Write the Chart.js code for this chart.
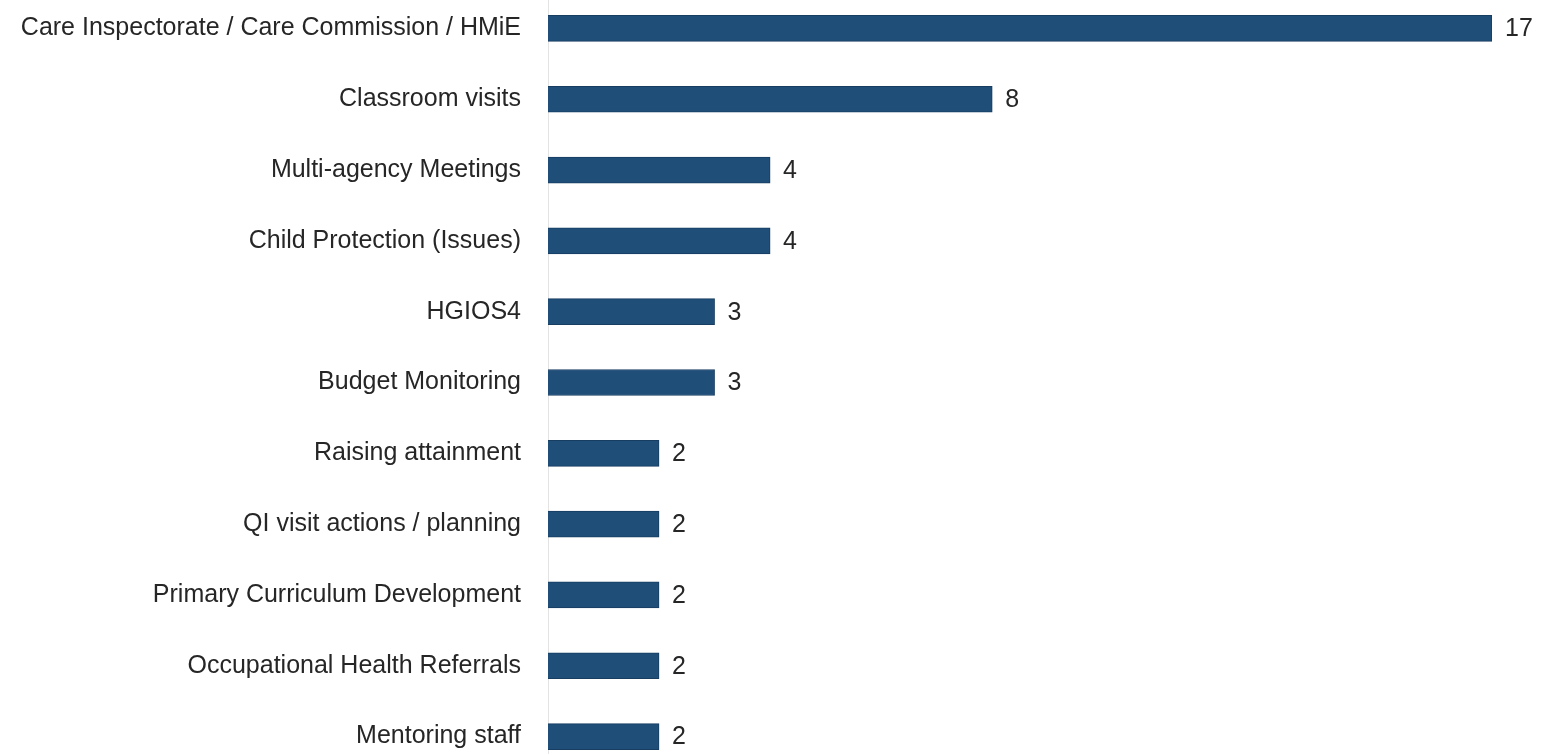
<!DOCTYPE html>
<html>
<head>
<meta charset="utf-8">
<script src="https://cdn.jsdelivr.net/npm/chart.js@4/dist/chart.umd.min.js"></script>
<style>
  html, body { margin: 0; padding: 0; background: #fff; overflow: hidden; }
  #box { position: absolute; left: 0; top: -49px; width: 1545px; height: 863px; }
</style>
</head>
<body>
<div id="box"><canvas id="c"></canvas></div>
<script>
// categories and counts, top to bottom as in the chart
const categories = [
  'Care Inspectorate / Care Commission / HMiE',
  'Classroom visits',
  'Multi-agency Meetings',
  'Child Protection (Issues)',
  'HGIOS4',
  'Budget Monitoring',
  'Raising attainment',
  'QI visit actions / planning',
  'Primary Curriculum Development',
  'Occupational Health Referrals',
  'Mentoring staff',
]
const counts = [17, 8, 4, 4, 3, 3, 2, 2, 2, 2, 2]

const FONT = { family: "'Liberation Sans', Arial, sans-serif", size: 25 }
const TEXT = '#262626'

// value labels just past the end of each bar
const valueLabels = {
  id: 'valueLabels',
  afterDatasetsDraw(chart) {
    const ctx = chart.ctx
    const meta = chart.getDatasetMeta(0)
    ctx.save()
    ctx.font = `${FONT.size}px ${FONT.family}`
    ctx.fillStyle = TEXT
    ctx.textBaseline = 'middle'
    ctx.textAlign = 'left'
    meta.data.forEach((bar, i) => {
      ctx.fillText(String(counts[i]), bar.x + 13, bar.y + 1)
    })
    ctx.restore()
  },
}

new Chart(document.getElementById('c'), {
  type: 'bar',
  data: {
    labels: categories,
    datasets: [{
      data: counts,
      backgroundColor: '#1f4e79',
      borderColor: '#173d60',
      borderWidth: 1,
      barThickness: 26,
    }],
  },
  options: {
    indexAxis: 'y',
    responsive: true,
    maintainAspectRatio: false,
    animation: false,
    layout: { padding: { right: 53 } },
    plugins: { legend: { display: false }, tooltip: { enabled: false } },
    scales: {
      x: { display: false, min: 0, max: 17 },
      y: {
        grid: { display: false, drawTicks: false },
        border: { display: true, color: '#e3e3e3', width: 1 },
        ticks: { color: TEXT, font: FONT, padding: 27 },
        afterFit(scale) { scale.width = 548 },
      },
    },
  },
  plugins: [valueLabels],
})
</script>
</body>
</html>
